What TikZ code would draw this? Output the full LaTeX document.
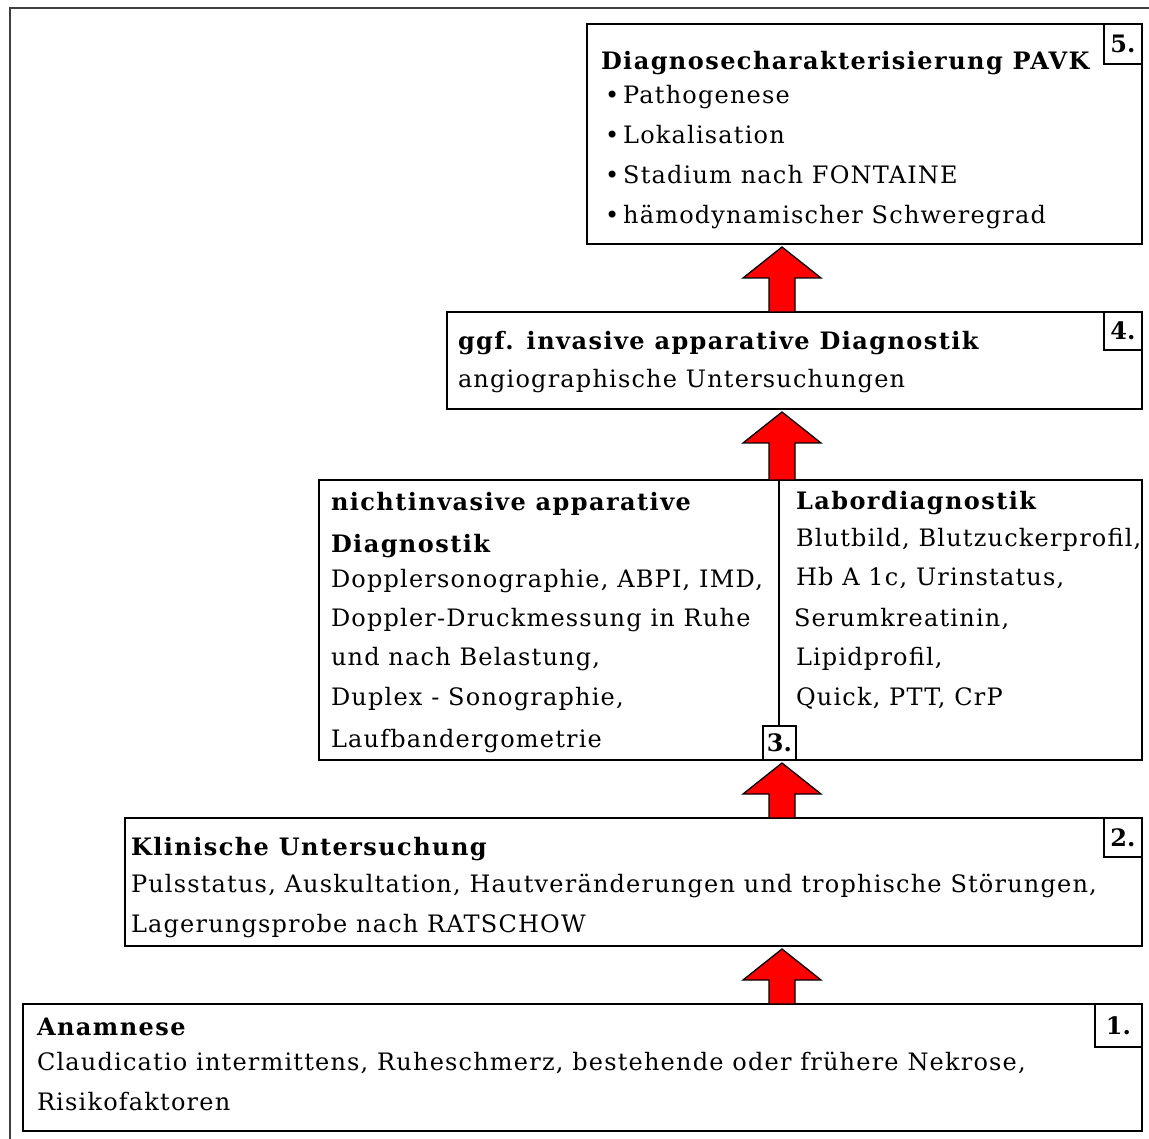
\documentclass[tikz,border=0pt]{standalone}
\usepackage{fontspec}
\setmainfont{DejaVu Serif}
\newfontfamily\regfont[LetterSpace=5]{DejaVu Serif}
\newfontfamily\boldfont[LetterSpace=6]{DejaVu Serif Bold}
\usetikzlibrary{calc}
\tikzset{
  box/.style={draw=black, line width=1.4pt, anchor=north west, inner sep=0pt, outer sep=0pt},
  numbox/.style={draw=black, line width=1.4pt, anchor=north east, inner sep=0pt, outer sep=0pt, font=\fontsize{24}{26}\selectfont\bfseries},
  txt/.style={anchor=base west, inner sep=0pt, outer sep=0pt, font=\fontsize{24}{26}\regfont},
  head/.style={txt, font=\fontsize{24}{26}\boldfont},
  fatarr/.style={draw=black, line width=1.3pt, fill=red, line join=miter},
}
\newcommand\fatarrow[2]{%
  \draw[fatarr] let \p1=(ax |- #1.north), \p2=(ax |- #2.south) in
    (\x1-13pt,\y1) -- (\x1-13pt,\y2-34pt) -- (\x1-39pt,\y2-34pt) -- (\x1,\y2-3pt)
    -- (\x1+39pt,\y2-34pt) -- (\x1+13pt,\y2-34pt) -- (\x1+13pt,\y1) -- cycle;}
\begin{document}
\begin{tikzpicture}[x=1pt,y=-1pt]
\useasboundingbox (0,0) rectangle (1149,1139);
\fill[white] (0,0) rectangle (1149,1139);
% outer frame
\draw[line width=2.2pt, draw=black!75] (10,1145) -- (10,8) -- (1155,8);
\coordinate (ax) at (782,0);
% box 5
\node[box, minimum width=555pt, minimum height=220pt] (b5) at (587,24) {};
\node[numbox, minimum width=38pt, minimum height=40pt] (n5) at (b5.north east) {5.};
\node[head] (t5a) at (601,70) {Diagnosecharakterisierung PAVK};
\node[txt] (t5b) at (605,104) {•\,Pathogenese};
\node[txt] (t5c) at (605,144) {•\,Lokalisation};
\node[txt] (t5d) at (605,184) {•\,Stadium nach FONTAINE};
\node[txt] (t5e) at (605,224) {•\,hämodynamischer Schweregrad};
% box 4
\node[box, minimum width=695pt, minimum height=97pt] (b4) at (447,312) {};
\node[numbox, minimum width=38pt, minimum height=38pt] (n4) at (b4.north east) {4.};
\node[head] (t4a) at (458,350) {ggf. invasive apparative Diagnostik};
\node[txt] (t4b) at (458,388) {angiographische Untersuchungen};
% box 3
\node[box, minimum width=823pt, minimum height=280pt] (b3) at (319,480) {};
\node[box, minimum width=33pt, minimum height=34pt] (n3) at (763,726) {};
\node[anchor=center, inner sep=0pt, font=\fontsize{24}{26}\selectfont\bfseries] (n3t) at (n3.center) {3.};
\draw[line width=1.4pt] (779,480) -- (n3.north -| 779,0);
\node[head] (t3a) at (331,510) {nichtinvasive apparative};
\node[head] (t3b) at (331,552) {Diagnostik};
\node[txt] (t3c) at (331,587) {Dopplersonographie, ABPI, IMD,};
\node[txt] (t3d) at (331,626) {Doppler-Druckmessung in Ruhe};
\node[txt] (t3e) at (331,665) {und nach Belastung,};
\node[txt] (t3f) at (331,705) {Duplex - Sonographie,};
\node[txt] (t3g) at (331,747) {Laufbandergometrie};
\node[head] (t3h) at (796,509) {Labordiagnostik};
\node[txt] (t3i) at (796,546) {Blutbild, Blutzuckerprofil,};
\node[txt] (t3j) at (796,585) {Hb A 1c, Urinstatus,};
\node[txt] (t3k) at (794,626) {Serumkreatinin,};
\node[txt] (t3l) at (796,665) {Lipidprofil,};
\node[txt] (t3m) at (796,705) {Quick, PTT, CrP};
% box 2
\node[box, minimum width=1017pt, minimum height=128pt] (b2) at (125,818) {};
\node[numbox, minimum width=38pt, minimum height=39pt] (n2) at (b2.north east) {2.};
\node[head] (t2a) at (131,855) {Klinische Untersuchung};
\node[txt] (t2b) at (131,892) {Pulsstatus, Auskultation, Hautveränderungen und trophische Störungen,};
\node[txt] (t2c) at (131,932) {Lagerungsprobe nach RATSCHOW};
% box 1
\node[box, minimum width=1119pt, minimum height=127pt] (b1) at (23,1004) {};
\node[numbox, minimum width=47pt, minimum height=43pt] (n1) at (b1.north east) {1.};
\node[head] (t1a) at (37,1035) {Anamnese};
\node[txt] (t1b) at (37,1070) {Claudicatio intermittens, Ruheschmerz, bestehende oder frühere Nekrose,};
\node[txt] (t1c) at (37,1110) {Risikofaktoren};
% arrows
\fatarrow{b4}{b5}
\fatarrow{b3}{b4}
\fatarrow{b2}{b3}
\fatarrow{b1}{b2}
\end{tikzpicture}
\end{document}
